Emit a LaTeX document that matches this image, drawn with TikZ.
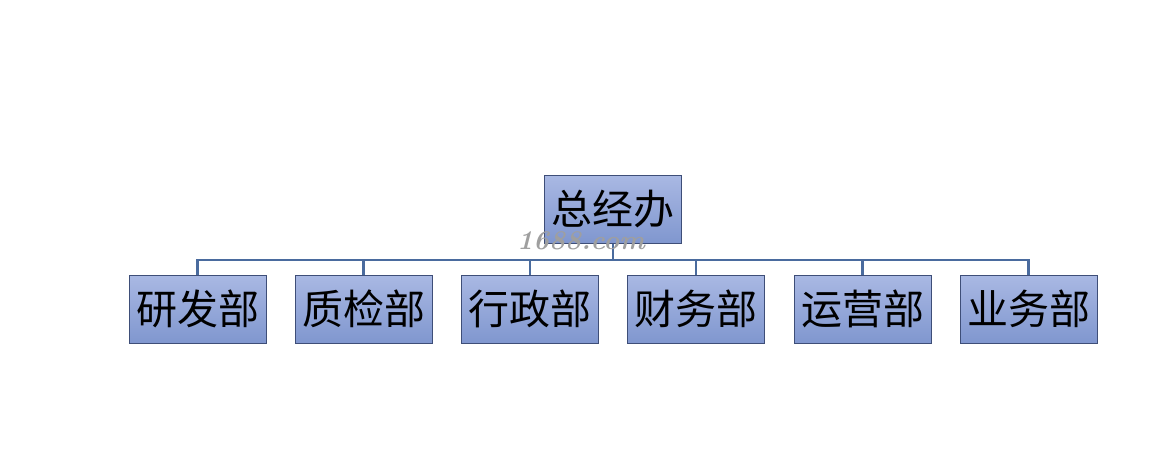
\documentclass[tikz,border=0pt]{standalone}
\usepackage{fontspec}
\newfontfamily\cjk{Noto Sans CJK SC}
\definecolor{boxtop}{HTML}{A9B8E3}
\definecolor{boxbot}{HTML}{8097CF}
\definecolor{boxline}{HTML}{3E4E78}
\definecolor{conn}{HTML}{4A6B9E}
\begin{document}
\begin{tikzpicture}[x=1pt,y=-1pt,
  dept/.style={draw=boxline, line width=1pt, top color=boxtop, bottom color=boxbot,
    minimum width=137pt, minimum height=68pt, inner sep=0pt,
    font=\cjk\fontsize{41}{44}\selectfont},
  link/.style={draw=conn, line width=2.2pt},
  wmark/.style={font=\itshape\bfseries\fontsize{27}{28}\selectfont, inner sep=0pt}]
\useasboundingbox (0,0) rectangle (1160,472);
\node[dept] (top) at (613,209) {总经办};
\node[dept] (d1) at (197.5,309) {研发部};
\node[dept] (d2) at (363.5,309) {质检部};
\node[dept] (d3) at (530,309) {行政部};
\node[dept] (d4) at (696,309) {财务部};
\node[dept] (d5) at (862.5,309) {运营部};
\node[dept] (d6) at (1028.5,309) {业务部};
\coordinate (bus) at (613,260);
\draw[link] (top.south) -- (bus);
\draw[link] (d1.north) |- (d6.north |- bus) -- (d6.north);
\foreach \d in {d2,d3,d4,d5}{\draw[link] (\d.north) -- (\d.north |- bus);}
\node[wmark, text=gray!75] (wm) at (581,241) {1688.com};
\end{tikzpicture}
\end{document}
